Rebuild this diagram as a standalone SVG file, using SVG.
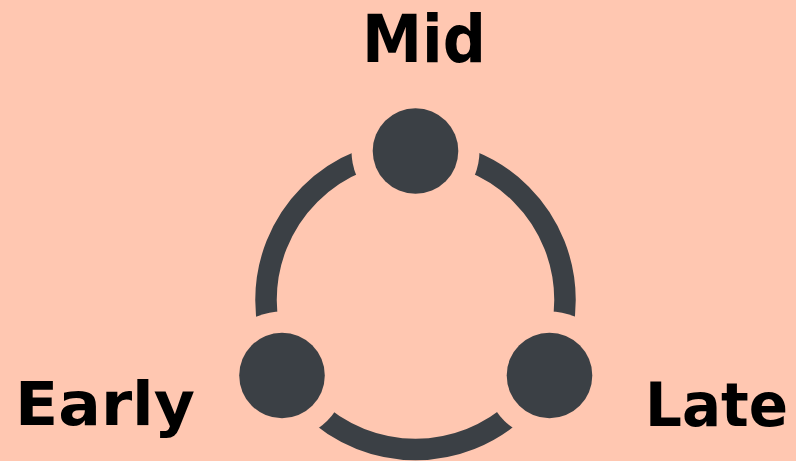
<svg xmlns="http://www.w3.org/2000/svg" width="796" height="461" viewBox="0 0 796 461">
<style>
.lbl{font-family:"DejaVu Sans","Liberation Sans",sans-serif;font-weight:bold;fill:#000}
.node{fill:#3B4045}
</style>
<defs>
<mask id="gap" maskUnits="userSpaceOnUse" x="0" y="0" width="796" height="461">
<rect x="0" y="0" width="796" height="461" fill="#fff"/>
<circle cx="415.5" cy="151" r="64" fill="#000"/>
<circle cx="282" cy="375.5" r="64" fill="#000"/>
<circle cx="549.5" cy="375.5" r="64" fill="#000"/>
</mask>
</defs>
<rect x="0" y="0" width="796" height="461" fill="#FFC7B1"/>
<g id="connectors">
<circle cx="415.5" cy="300" r="149.5" fill="none" stroke="#3B4045" stroke-width="21.5" mask="url(#gap)"/>
</g>
<g id="mid">
<circle class="node" cx="415.5" cy="151" r="42.8"/>
<text class="lbl" x="362" y="61.7" font-size="65" textLength="124" lengthAdjust="spacingAndGlyphs">Mid</text>
</g>
<g id="early">
<circle class="node" cx="282" cy="375.5" r="42.8"/>
<text class="lbl" x="15" y="425" font-size="60" textLength="180" lengthAdjust="spacingAndGlyphs">Early</text>
</g>
<g id="late">
<circle class="node" cx="549.5" cy="375.5" r="42.8"/>
<text class="lbl" x="645" y="425.5" font-size="60" textLength="143" lengthAdjust="spacingAndGlyphs">Late</text>
</g>
</svg>
